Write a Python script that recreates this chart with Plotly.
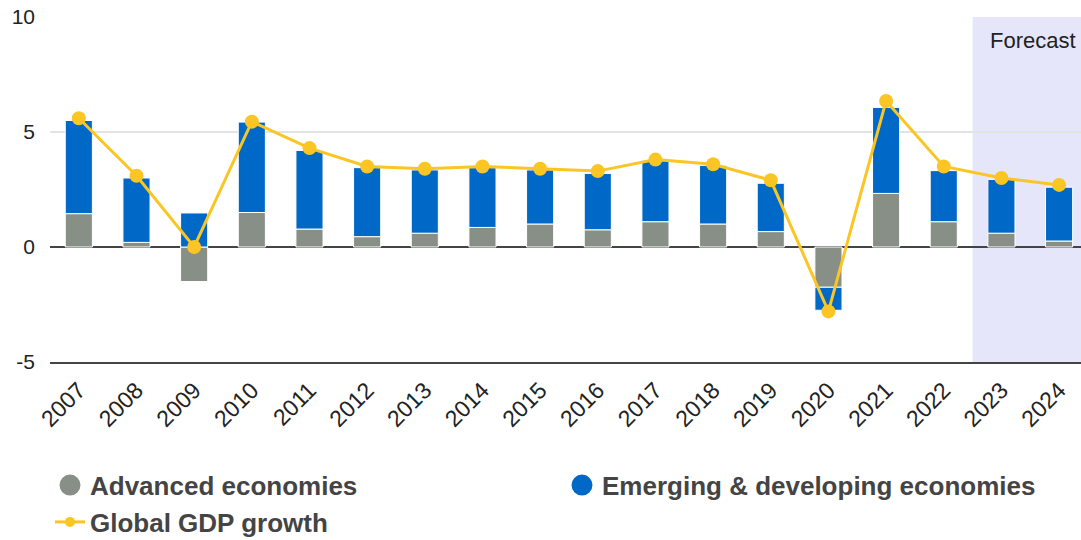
import plotly.graph_objects as go

years = ["2007", "2008", "2009", "2010", "2011", "2012", "2013", "2014", "2015",
         "2016", "2017", "2018", "2019", "2020", "2021", "2022", "2023", "2024"]
advanced = [1.45, 0.2, -1.5, 1.5, 0.78, 0.45, 0.6, 0.85, 1.0,
            0.75, 1.1, 1.0, 0.67, -1.75, 2.33, 1.1, 0.6, 0.26]
emerging = [4.05, 2.8, 1.48, 3.93, 3.42, 3.0, 2.75, 2.6, 2.35,
            2.45, 2.65, 2.55, 2.1, -1.0, 3.74, 2.22, 2.34, 2.34]
global_gdp = [5.6, 3.1, 0.0, 5.45, 4.3, 3.5, 3.4, 3.5, 3.4,
              3.3, 3.8, 3.6, 2.9, -2.8, 6.35, 3.5, 3.0, 2.7]
y_ticks = [-5, 0, 5, 10]
y_tick_labels = ["-5", "0", "5", "10"]

GRAY = "#878f87"
BLUE = "#0068c6"
YELLOW = "#fbc524"
FONT = "Liberation Sans, Arial, sans-serif"

fig = go.Figure()
fig.add_trace(go.Bar(x=years, y=advanced, name="Advanced economies",
                     marker=dict(color=GRAY, line=dict(color="white", width=1)),
                     showlegend=False))
fig.add_trace(go.Bar(x=years, y=emerging, name="Emerging & developing economies",
                     marker=dict(color=BLUE, line=dict(color="white", width=1)),
                     showlegend=False))
fig.add_trace(go.Scatter(x=years, y=global_gdp, mode="lines+markers",
                         name="Global GDP growth", showlegend=False,
                         line=dict(color=YELLOW, width=3),
                         marker=dict(color=YELLOW, size=14)))
# legend entries
fig.add_trace(go.Scatter(x=[None], y=[None], mode="markers", name="Advanced economies",
                         marker=dict(color=GRAY, size=16, line=dict(color=GRAY, width=5))))
fig.add_trace(go.Scatter(x=[None], y=[None], mode="markers",
                         name="Emerging & developing economies",
                         marker=dict(color=BLUE, size=16, line=dict(color=BLUE, width=5))))
fig.add_trace(go.Scatter(x=[None], y=[None], mode="lines+markers", name="Global GDP growth",
                         line=dict(color=YELLOW, width=3),
                         marker=dict(color=YELLOW, size=10)))

fig.add_shape(type="rect", xref="x", yref="y", x0=15.5, x1=17.6, y0=-5, y1=10,
              fillcolor="#e6e6fb", line=dict(width=0), layer="below")
fig.add_annotation(text="Forecast", xref="paper", yref="y", x=1, y=10,
                   xanchor="right", yanchor="top", yshift=-9, xshift=-3,
                   showarrow=False, font=dict(family=FONT, size=22, color="#222"))

fig.update_layout(
    width=1081, height=540,
    margin=dict(l=50, r=0, t=17, b=178),
    paper_bgcolor="white", plot_bgcolor="white",
    barmode="relative", bargap=0.53,
    font=dict(family=FONT, color="#222"),
    legend=dict(orientation="h", xref="paper", x=0, xanchor="left",
                yref="container", y=0.145, yanchor="top",
                entrywidth=467, entrywidthmode="pixels",
                font=dict(family=FONT, size=26, color="#444", weight="bold"),
                itemclick=False),
    xaxis=dict(range=[-0.5, 17.38], tickangle=-45, showgrid=False,
               tickfont=dict(size=23, color="#222"),
               showline=True, linecolor="#444", linewidth=1.5,
               ticks="", ticklabelstandoff=4),
    yaxis=dict(range=[-5, 10], tickvals=y_ticks, ticktext=y_tick_labels, showgrid=True,
               gridcolor="#e3e3e3", gridwidth=1.5,
               zeroline=True, zerolinecolor="#444", zerolinewidth=1.5,
               tickfont=dict(size=21, color="#222"), ticklabelstandoff=14),
)

fig.write_html("out.html")
